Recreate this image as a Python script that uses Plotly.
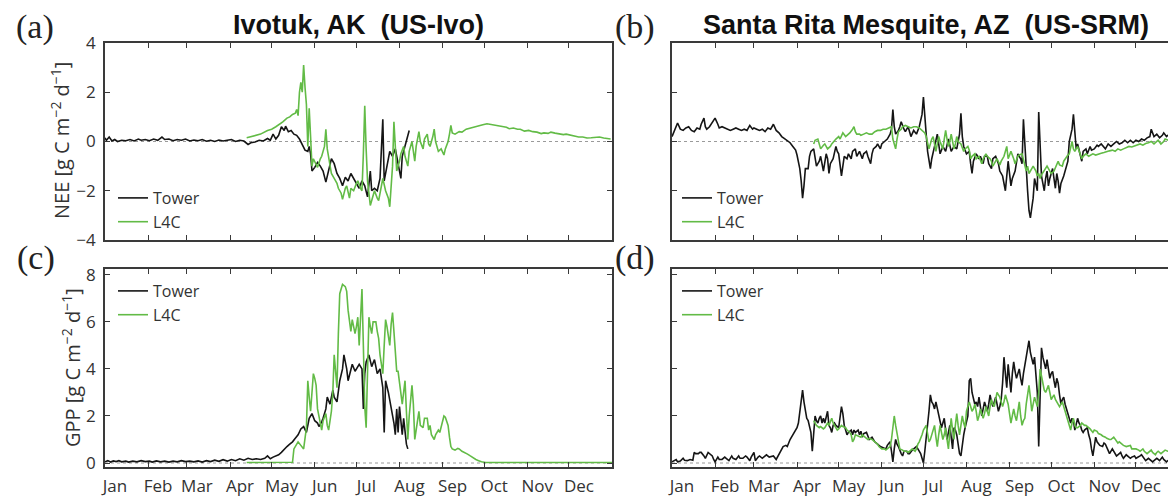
import plotly.graph_objects as go

W, H = 1168, 499
FONT = "Open Sans"

# ---------------- axis / tick definitions ----------------
month_labels = ["Jan", "Feb", "Mar", "Apr", "May", "Jun", "Jul", "Aug", "Sep", "Oct", "Nov", "Dec"]
month_start_doy = [1, 32, 60, 91, 121, 152, 182, 213, 244, 274, 305, 335]
nee_ticks = [-4, -2, 0, 2, 4]
gpp_ticks = [0, 2, 4, 6, 8]

# ---------------- data: (day of year, value) ----------------
ivo_nee_tower = [
    (1, 0.15), (2, 0.05), (4, 0.18), (6, 0.02), (8, 0.08), (10, 0.0), (13, 0.05), (16, 0.03), (19, 0.08),
    (22, 0.02), (25, 0.1), (27, 0.05), (30, 0.08), (33, 0.03), (36, 0.1), (39, 0.05), (42, 0.18), (44, 0.08),
    (47, 0.1), (50, 0.03), (53, 0.08), (56, 0.05), (59, 0.1), (62, 0.02), (65, 0.06), (68, 0.03), (71, 0.08),
    (74, 0.01), (77, 0.05), (80, 0.0), (83, 0.06), (86, 0.02), (89, 0.05), (92, 0.08), (95, 0.0), (98, 0.05),
    (101, 0.02), (104, -0.12), (106, -0.05), (109, -0.02), (112, 0.05), (115, 0.02), (118, 0.12), (120, 0.05),
    (122, 0.3), (124, 0.1), (126, 0.25), (128, 0.6), (130, 0.45), (131, 0.62), (133, 0.4), (135, 0.45),
    (137, 0.3), (139, 0.25), (141, 0.1), (143, -0.15), (145, -0.35), (147, -0.4), (148, -0.2), (149, -0.5),
    (150, -1.2), (152, -1.05), (154, -0.85), (156, -1.0), (158, -1.2), (160, -1.65), (162, -1.2), (164, -0.7),
    (166, -0.9), (168, -1.3), (170, -1.5), (172, -1.8), (174, -1.45), (176, -1.6), (178, -1.3), (180, -1.5),
    (182, -1.7), (184, -1.9), (186, -1.6), (188, -1.8), (190, -2.25), (192, -1.2), (193, -2.0), (195, -1.9),
    (197, -2.0), (199, -1.5), (200, -0.3), (201, 0.9), (202, -1.6), (204, -1.0), (206, -0.4), (208, -0.6),
    (210, -0.3), (212, -0.9), (213, -1.2), (214, -1.5), (215, -0.6), (217, -0.2), (219, 0.2), (220, 0.45),
]

ivo_nee_l4c = [
    (103, 0.15), (108, 0.22), (113, 0.3), (118, 0.45), (121, 0.5), (124, 0.6), (127, 0.7), (129, 0.8),
    (132, 0.95), (134, 1.0), (136, 1.1), (138, 1.15), (139, 1.3), (140, 1.05), (141, 2.0), (142, 2.4),
    (143, 2.0), (144, 3.1), (145, 2.2), (146, 1.5), (147, -0.2), (148, 1.35), (149, 0.2), (150, -1.0),
    (151, -0.7), (153, -0.9), (154, -1.05), (156, -0.7), (157, -0.6), (159, -0.2), (160, 0.5), (161, -0.3),
    (163, -1.0), (164, -1.3), (166, -1.5), (168, -1.7), (169, -1.9), (171, -2.1), (172, -2.35), (174, -1.9),
    (175, -1.8), (177, -2.3), (178, -1.9), (180, -2.0), (182, -1.7), (183, -1.6), (185, -1.9), (186, -2.0),
    (187, -0.5), (188, 1.45), (189, -0.3), (190, -1.6), (192, -2.6), (194, -2.2), (195, -2.0), (197, -2.3),
    (198, -2.4), (200, -1.8), (201, -1.5), (203, -2.0), (205, -2.3), (206, -2.65), (207, -1.6), (208, -1.0),
    (209, 0.8), (210, -0.5), (211, -1.2), (213, -0.8), (214, -0.5), (216, -0.2), (217, -0.6), (219, -1.0),
    (220, -0.4), (222, 0.0), (224, -0.8), (225, -0.2), (227, 0.4), (228, 0.0), (230, -0.3), (231, 0.1),
    (233, 0.3), (234, -0.1), (235, -0.2), (237, 0.2), (238, 0.5), (239, 0.0), (241, -0.4), (243, -0.3),
    (245, -0.55), (246, -0.3), (248, 0.0), (249, 0.3), (250, 0.65), (251, 0.35), (253, 0.3), (256, 0.4),
    (258, 0.38), (261, 0.5), (264, 0.55), (267, 0.6), (270, 0.66), (273, 0.68), (276, 0.72), (278, 0.7),
    (281, 0.66), (284, 0.62), (287, 0.6), (290, 0.58), (292, 0.52), (295, 0.55), (298, 0.5), (300, 0.5),
    (303, 0.42), (306, 0.45), (309, 0.4), (312, 0.38), (315, 0.32), (317, 0.35), (320, 0.33), (322, 0.38),
    (325, 0.34), (328, 0.3), (331, 0.28), (333, 0.3), (336, 0.25), (339, 0.2), (342, 0.18), (345, 0.18),
    (348, 0.14), (351, 0.15), (354, 0.17), (357, 0.18), (360, 0.14), (363, 0.12), (365, 0.1),
]

ivo_gpp_tower = [
    (1, 0.05), (3, 0.1), (5, 0.04), (7, 0.09), (9, 0.06), (11, 0.1), (13, 0.05), (16, 0.08), (18, 0.04),
    (21, 0.08), (24, 0.05), (27, 0.1), (30, 0.06), (33, 0.08), (35, 0.04), (38, 0.09), (41, 0.05), (44, 0.08),
    (47, 0.04), (50, 0.08), (53, 0.05), (56, 0.1), (59, 0.06), (62, 0.08), (65, 0.05), (68, 0.09), (71, 0.04),
    (74, 0.1), (77, 0.06), (80, 0.12), (83, 0.07), (86, 0.14), (89, 0.08), (92, 0.15), (95, 0.1), (98, 0.18),
    (101, 0.12), (104, 0.2), (107, 0.15), (110, 0.18), (113, 0.15), (116, 0.2), (118, 0.3), (120, 0.18),
    (122, 0.25), (124, 0.3), (126, 0.35), (128, 0.45), (130, 0.6), (132, 0.7), (134, 0.8), (136, 0.9),
    (138, 1.05), (140, 1.2), (142, 1.45), (144, 1.55), (146, 1.3), (148, 1.9), (150, 2.1), (152, 1.8),
    (154, 1.7), (155, 1.55), (157, 1.75), (158, 1.9), (160, 2.3), (161, 2.8), (163, 2.5), (165, 3.1),
    (166, 2.8), (168, 2.6), (170, 3.5), (172, 4.0), (173, 4.6), (175, 4.0), (176, 3.5), (178, 3.9),
    (179, 4.2), (181, 3.9), (183, 4.1), (184, 4.2), (186, 4.0), (187, 2.3), (188, 3.8), (189, 4.3),
    (191, 4.6), (193, 4.1), (195, 4.4), (197, 3.8), (199, 4.0), (200, 3.6), (201, 3.2), (202, 1.3),
    (203, 3.5), (205, 3.0), (207, 2.4), (209, 1.7), (210, 1.2), (211, 2.3), (212, 1.3), (213, 2.4),
    (215, 1.2), (216, 1.9), (218, 0.8), (219, 0.6),
]

ivo_gpp_l4c = [
    (103, 0.02), (110, 0.02), (118, 0.02), (125, 0.02), (131, 0.02), (136, 0.03), (137, 0.6), (139, 0.8),
    (140, 0.9), (142, 0.75), (144, 0.6), (146, 1.5), (147, 3.5), (148, 2.8), (149, 2.2), (150, 3.0),
    (151, 3.8), (152, 3.6), (153, 3.3), (154, 2.3), (155, 2.0), (157, 1.4), (158, 1.8), (160, 2.1),
    (161, 1.6), (162, 1.4), (164, 2.2), (165, 3.0), (166, 4.6), (167, 3.8), (168, 3.2), (169, 5.5),
    (170, 7.2), (171, 7.4), (172, 7.6), (174, 7.5), (175, 7.3), (176, 6.5), (177, 5.9), (178, 5.6),
    (179, 6.1), (180, 5.7), (181, 5.5), (182, 5.8), (183, 6.2), (184, 5.0), (185, 6.5), (186, 7.4),
    (187, 5.0), (188, 2.4), (189, 1.5), (190, 3.5), (191, 6.2), (192, 5.8), (193, 5.5), (194, 6.0),
    (196, 6.0), (197, 5.6), (198, 5.3), (199, 4.6), (200, 4.2), (201, 3.8), (202, 5.0), (203, 6.1),
    (204, 5.8), (205, 5.4), (206, 5.0), (207, 5.9), (208, 6.4), (209, 5.6), (210, 4.5), (211, 3.9),
    (212, 3.9), (213, 3.4), (214, 3.0), (215, 2.5), (216, 3.0), (217, 3.5), (218, 2.2), (219, 1.0),
    (220, 2.0), (222, 3.3), (223, 2.5), (224, 1.0), (225, 1.4), (227, 2.2), (228, 1.6), (230, 1.5),
    (231, 1.9), (233, 1.9), (234, 1.4), (235, 1.6), (236, 1.2), (238, 1.0), (239, 1.2), (241, 1.4),
    (242, 1.3), (244, 1.8), (245, 2.0), (246, 1.95), (247, 1.8), (248, 1.6), (249, 1.1), (250, 0.7),
    (251, 0.6), (253, 0.55), (255, 0.62), (256, 0.6), (258, 0.5), (260, 0.45), (262, 0.38), (264, 0.3),
    (266, 0.22), (268, 0.15), (270, 0.1), (272, 0.05), (275, 0.02), (280, 0.02), (290, 0.02), (300, 0.02),
    (310, 0.02), (320, 0.02), (330, 0.02), (340, 0.02), (350, 0.02), (360, 0.02), (366, 0.02),
]

srm_nee_tower = [
    (1, 0.2), (3, 0.45), (5, 0.75), (7, 0.5), (9, 0.45), (11, 0.55), (13, 0.6), (15, 0.45), (17, 0.4),
    (19, 0.55), (21, 0.5), (22, 0.7), (24, 0.95), (25, 0.6), (26, 0.5), (28, 0.6), (30, 0.75), (32, 0.95),
    (34, 0.7), (35, 0.55), (37, 0.6), (39, 0.55), (41, 0.5), (43, 0.45), (45, 0.5), (47, 0.55), (49, 0.5),
    (51, 0.45), (53, 0.5), (55, 0.45), (56, 0.55), (57, 0.65), (59, 0.5), (60, 0.55), (62, 0.5), (64, 0.45),
    (66, 0.5), (68, 0.4), (70, 0.55), (72, 0.5), (74, 0.7), (76, 0.45), (78, 0.35), (80, 0.2), (82, 0.12),
    (84, 0.05), (86, -0.05), (88, -0.2), (90, -0.35), (91, -0.55), (93, -1.1), (94, -1.6), (95, -2.3),
    (96, -1.8), (97, -1.1), (99, -1.1), (100, -0.6), (101, -0.4), (103, -0.3), (105, -1.0), (107, -0.8),
    (108, -0.6), (110, -1.2), (112, -0.5), (113, -0.7), (114, -1.3), (115, -0.9), (117, -0.7), (119, -0.2),
    (120, -0.4), (121, -0.5), (123, -1.4), (124, -0.9), (125, -0.6), (127, -0.7), (128, -0.5), (130, -0.7),
    (131, -0.4), (133, -0.3), (134, -0.6), (136, -0.4), (138, -0.7), (139, -0.5), (141, -0.4), (142, -0.6),
    (144, -0.9), (145, -0.5), (146, -0.3), (148, -0.2), (149, -0.1), (151, -0.3), (152, -0.1), (154, 0.0),
    (156, 0.1), (158, 0.3), (159, 0.5), (160, 1.3), (161, 0.6), (162, 0.3), (164, 0.45), (165, 0.6),
    (166, 0.8), (168, 0.5), (169, 0.4), (171, 0.6), (173, 0.2), (175, 0.45), (177, 0.3), (179, 0.6),
    (181, 1.1), (182, 1.8), (183, 1.2), (184, 0.3), (185, -0.4), (187, -1.1), (188, -0.7), (189, -0.5),
    (190, -0.2), (192, 0.3), (193, -0.1), (194, -0.5), (196, -0.2), (198, -0.4), (200, 0.1), (202, -0.4),
    (204, -0.2), (206, -0.3), (208, 0.3), (209, 1.15), (210, 0.2), (211, -0.2), (213, -0.5), (215, -0.4),
    (216, -0.9), (217, -1.3), (218, -0.8), (220, -0.5), (222, -0.7), (223, -0.6), (225, -0.9), (226, -0.6),
    (228, -0.6), (229, -0.9), (231, -1.1), (232, -0.7), (234, -0.6), (236, -0.9), (237, -1.2), (239, -1.4),
    (241, -2.0), (242, -1.4), (243, -0.8), (245, -1.8), (246, -1.5), (248, -1.2), (249, -0.8), (250, -0.5),
    (252, -0.7), (253, -0.9), (254, 0.9), (255, -0.2), (256, -1.0), (257, -2.0), (258, -2.8), (259, -3.1),
    (260, -2.7), (261, -2.3), (262, -1.5), (263, -1.8), (264, -2.0), (265, 1.2), (266, -0.2), (267, -1.4),
    (268, -1.7), (269, -2.0), (270, -1.5), (271, -1.2), (272, -1.8), (273, -1.5), (275, -1.1), (276, -1.6),
    (277, -1.9), (278, -1.3), (279, -1.6), (280, -2.1), (281, -1.7), (283, -1.4), (284, -1.2), (286, -0.8),
    (287, 0.0), (288, 0.3), (289, 0.5), (290, 1.1), (291, 0.4), (292, -0.3), (293, -0.1), (295, -0.5),
    (296, -0.8), (297, -0.4), (299, -0.3), (300, -0.5), (302, -0.2), (303, -0.35), (305, -0.3), (307, -0.15),
    (308, -0.2), (310, -0.1), (312, -0.25), (313, -0.3), (315, -0.1), (317, -0.2), (319, -0.1), (321, 0.0),
    (323, -0.1), (325, -0.05), (327, 0.05), (329, -0.05), (331, 0.05), (333, -0.05), (335, 0.05), (337, 0.0),
    (339, 0.1), (341, 0.05), (343, 0.15), (345, 0.2), (346, 0.5), (347, 0.3), (348, 0.2), (350, 0.3),
    (352, 0.15), (354, 0.25), (355, 0.35), (357, 0.2), (359, 0.3), (361, 0.45), (363, 0.3), (365, 0.25),
]

srm_nee_l4c = [
    (103, -0.1), (104, 0.05), (106, 0.1), (108, -0.3), (110, -0.15), (111, -0.1), (113, -0.3), (115, -0.2),
    (116, -0.1), (118, 0.05), (119, 0.1), (121, 0.2), (122, 0.1), (124, 0.35), (126, 0.2), (127, 0.25),
    (129, 0.35), (131, 0.5), (132, 0.6), (133, 0.4), (134, 0.3), (136, 0.3), (137, 0.25), (139, 0.3),
    (141, 0.35), (143, 0.3), (145, 0.3), (147, 0.4), (149, 0.45), (151, 0.45), (153, 0.5), (155, 0.5),
    (157, 0.55), (159, 0.6), (160, 0.1), (161, -0.15), (162, -0.3), (163, 0.1), (164, 0.4), (166, 0.5),
    (167, 0.6), (169, 0.65), (171, 0.6), (173, 0.55), (175, 0.6), (177, 0.6), (179, 0.55), (181, 0.45),
    (183, 0.35), (184, 0.2), (185, 0.0), (186, -0.3), (188, 0.1), (189, 0.2), (190, -0.1), (191, -0.4),
    (192, -0.1), (193, 0.2), (194, 0.0), (196, -0.3), (197, 0.1), (198, 0.45), (199, 0.1), (200, -0.2),
    (201, 0.0), (202, 0.3), (203, 0.0), (204, -0.3), (205, -0.1), (206, 0.2), (207, 0.0), (209, -0.1),
    (210, -0.25), (211, -0.4), (212, -0.3), (214, -0.2), (215, -0.35), (216, -0.7), (217, -0.6), (219, -0.5),
    (220, -0.7), (222, -0.6), (223, -0.75), (224, -0.9), (225, -0.7), (227, -0.5), (228, -0.6), (230, -0.7),
    (231, -0.8), (232, -1.0), (234, -0.8), (235, -0.7), (237, -0.95), (238, -0.8), (240, -0.6), (241, -0.4),
    (242, -0.2), (243, -0.7), (244, -0.5), (245, -0.4), (247, -0.7), (248, -0.9), (250, -0.6), (251, -0.55),
    (253, -0.5), (254, -0.7), (256, -1.2), (257, -1.0), (258, -1.3), (260, -1.1), (261, -1.0), (263, -1.2),
    (264, -1.4), (265, -1.3), (266, -1.5), (267, -1.35), (269, -1.2), (270, -1.1), (271, -1.0), (273, -1.2),
    (274, -1.3), (276, -1.2), (277, -1.05), (279, -0.8), (280, -0.95), (282, -1.0), (283, -0.8), (285, -0.6),
    (286, -0.55), (287, -0.5), (288, -0.2), (289, 0.0), (290, -0.3), (291, -0.4), (293, -0.2), (294, -0.4),
    (296, -0.7), (297, -0.6), (299, -0.5), (301, -0.6), (303, -0.55), (304, -0.5), (306, -0.55), (308, -0.5),
    (310, -0.48), (312, -0.45), (314, -0.4), (316, -0.38), (318, -0.35), (320, -0.4), (322, -0.3),
    (324, -0.35), (326, -0.3), (328, -0.25), (330, -0.2), (332, -0.22), (334, -0.18), (336, -0.15),
    (338, -0.1), (340, -0.15), (342, -0.08), (344, -0.05), (346, 0.0), (348, -0.1), (350, 0.0), (351, 0.05),
    (353, -0.1), (355, 0.0), (356, 0.1), (358, 0.05), (361, 0.0), (365, 0.0),
]

srm_gpp_tower = [
    (1, 0.05), (3, 0.12), (4, 0.15), (5, 0.05), (7, 0.08), (9, 0.2), (10, 0.12), (12, 0.1), (14, 0.15),
    (16, 0.12), (17, 0.45), (18, 0.4), (20, 0.4), (21, 0.45), (22, 0.45), (24, 0.3), (25, 0.2), (27, 0.45),
    (28, 0.4), (30, 0.3), (31, 0.15), (32, 0.05), (34, 0.25), (35, 0.15), (37, 0.15), (39, 0.25), (40, 0.2),
    (42, 0.1), (44, 0.3), (45, 0.2), (47, 0.15), (49, 0.3), (50, 0.2), (52, 0.2), (54, 0.3), (55, 0.25),
    (57, 0.1), (58, 0.25), (60, 0.45), (61, 0.1), (63, 0.25), (64, 0.3), (66, 0.2), (68, 0.3), (69, 0.35),
    (71, 0.25), (73, 0.3), (74, 0.3), (76, 0.15), (77, 0.25), (78, 0.4), (80, 0.6), (81, 0.7), (83, 0.75),
    (84, 0.7), (86, 1.0), (87, 1.1), (89, 1.3), (90, 1.4), (91, 1.5), (92, 1.7), (93, 2.2), (94, 2.6),
    (95, 3.1), (96, 2.6), (97, 2.2), (98, 1.9), (99, 1.8), (100, 1.6), (101, 1.3), (102, 0.5), (103, 1.5),
    (104, 2.0), (105, 1.8), (106, 1.7), (107, 1.9), (108, 2.0), (109, 1.7), (110, 1.9), (111, 1.7),
    (112, 2.0), (113, 2.2), (114, 1.6), (115, 1.5), (116, 1.3), (117, 1.6), (118, 1.7), (119, 1.6),
    (121, 1.5), (122, 2.0), (123, 2.4), (124, 2.1), (125, 1.6), (126, 1.4), (127, 1.2), (128, 1.3),
    (130, 1.4), (131, 1.2), (132, 1.4), (133, 1.3), (135, 1.4), (136, 1.2), (137, 1.35), (138, 1.1),
    (139, 1.25), (141, 1.3), (142, 1.1), (143, 1.0), (145, 1.1), (147, 0.9), (149, 0.8), (151, 0.7),
    (153, 0.65), (155, 0.6), (156, 0.75), (158, 0.9), (159, 0.5), (160, 0.05), (161, 0.6), (162, 1.0),
    (163, 0.8), (164, 0.7), (166, 0.4), (167, 0.3), (168, 0.5), (170, 0.5), (171, 0.4), (172, 0.4),
    (174, 0.55), (175, 0.6), (177, 0.7), (178, 0.6), (180, 0.4), (181, 0.2), (182, 0.0), (183, 0.5),
    (184, 1.0), (185, 1.6), (186, 2.2), (187, 2.9), (188, 2.6), (189, 2.5), (190, 2.3), (191, 2.6),
    (192, 2.3), (193, 2.0), (194, 1.7), (195, 1.5), (196, 1.7), (197, 1.9), (198, 1.4), (199, 1.0),
    (200, 1.3), (201, 1.6), (202, 1.1), (203, 0.6), (204, 1.5), (205, 1.4), (206, 1.2), (207, 0.8),
    (208, 0.4), (209, 0.3), (210, 0.8), (211, 1.2), (212, 1.5), (213, 1.7), (214, 2.0), (215, 3.5),
    (216, 3.6), (217, 3.0), (218, 2.7), (219, 2.5), (220, 2.6), (221, 2.4), (222, 2.8), (223, 2.4),
    (224, 2.0), (225, 2.3), (226, 2.6), (227, 2.4), (228, 2.2), (229, 2.5), (230, 2.9), (231, 2.6),
    (232, 2.4), (233, 2.6), (234, 2.8), (235, 2.5), (236, 2.2), (237, 2.4), (238, 2.7), (239, 3.4),
    (240, 4.5), (241, 3.8), (242, 3.2), (243, 4.2), (244, 3.5), (245, 3.0), (246, 3.8), (247, 4.3),
    (248, 3.9), (249, 3.6), (250, 3.8), (251, 4.0), (252, 3.6), (253, 3.3), (254, 3.8), (255, 4.2),
    (256, 4.5), (257, 4.8), (258, 5.2), (259, 4.7), (260, 4.4), (261, 4.2), (262, 4.5), (263, 3.8),
    (264, 3.0), (265, 0.7), (266, 3.5), (267, 4.9), (268, 4.5), (269, 4.2), (270, 4.0), (271, 4.4),
    (272, 4.0), (273, 3.6), (274, 3.8), (275, 3.9), (276, 3.5), (277, 3.2), (278, 3.6), (279, 3.4),
    (280, 2.9), (281, 2.5), (282, 2.7), (283, 2.8), (284, 2.5), (285, 2.3), (286, 2.1), (287, 2.0),
    (288, 1.7), (289, 1.9), (290, 1.8), (291, 1.4), (292, 1.6), (293, 1.9), (294, 1.7), (295, 1.6),
    (296, 1.4), (297, 1.3), (298, 1.4), (300, 1.5), (301, 1.2), (302, 1.0), (303, 0.6), (304, 0.3),
    (305, 0.7), (306, 1.1), (307, 0.9), (308, 0.8), (309, 0.75), (311, 0.7), (312, 0.85), (313, 0.8),
    (315, 0.5), (316, 0.4), (318, 0.6), (319, 0.5), (321, 0.3), (322, 0.35), (324, 0.45), (325, 0.3),
    (326, 0.2), (328, 0.35), (329, 0.3), (331, 0.2), (332, 0.25), (334, 0.3), (335, 0.2), (337, 0.25),
    (338, 0.3), (339, 0.35), (341, 0.2), (342, 0.1), (344, 0.2), (345, 0.15), (347, 0.05), (348, 0.1),
    (350, 0.2), (351, 0.15), (352, 0.1), (354, 0.25), (355, 0.15), (357, 0.05), (358, 0.1), (360, 0.15),
    (362, 0.1), (364, 0.15), (365, 0.1),
]

srm_gpp_l4c = [
    (103, 1.8), (104, 1.7), (105, 1.6), (107, 1.5), (108, 1.55), (110, 1.45), (111, 1.5), (113, 1.7),
    (114, 1.6), (116, 1.9), (117, 1.7), (119, 1.5), (120, 1.4), (121, 1.45), (123, 1.6), (124, 1.55),
    (126, 1.5), (127, 1.4), (129, 1.3), (130, 1.2), (131, 0.9), (132, 1.0), (133, 1.2), (135, 1.15),
    (137, 1.1), (138, 1.2), (140, 1.1), (142, 1.0), (143, 1.05), (145, 1.0), (147, 0.9), (149, 0.8),
    (150, 0.7), (152, 0.6), (154, 0.6), (155, 0.55), (157, 0.65), (158, 0.7), (159, 1.0), (160, 1.5),
    (161, 2.0), (162, 1.6), (163, 1.2), (164, 0.9), (165, 0.6), (167, 0.55), (168, 0.5), (170, 0.5),
    (171, 0.45), (173, 0.55), (174, 0.6), (176, 0.5), (177, 0.6), (178, 0.8), (179, 0.9), (181, 1.2),
    (182, 1.4), (184, 1.6), (185, 1.2), (186, 0.9), (187, 1.0), (188, 1.2), (189, 1.5), (190, 1.6),
    (191, 1.1), (192, 0.7), (193, 1.2), (194, 1.6), (195, 1.3), (196, 1.0), (197, 1.2), (198, 1.5),
    (199, 1.0), (200, 0.6), (201, 1.3), (202, 1.9), (203, 1.4), (204, 1.0), (205, 1.6), (206, 2.1),
    (207, 1.6), (208, 1.2), (209, 1.6), (210, 2.0), (211, 1.7), (212, 1.5), (213, 2.2), (214, 2.4),
    (215, 2.6), (216, 2.4), (217, 2.2), (218, 2.3), (219, 2.5), (220, 2.2), (221, 1.8), (222, 2.0),
    (223, 2.3), (224, 2.1), (225, 1.9), (226, 2.1), (227, 2.4), (228, 2.2), (229, 2.0), (230, 2.4),
    (231, 2.7), (232, 2.5), (233, 2.4), (234, 2.7), (235, 3.0), (236, 2.9), (237, 2.8), (238, 2.6),
    (239, 2.4), (240, 2.6), (241, 2.9), (242, 2.7), (243, 2.5), (244, 2.1), (245, 1.7), (246, 2.0),
    (247, 2.3), (248, 2.0), (249, 1.8), (250, 2.2), (251, 2.6), (252, 2.0), (253, 1.6), (254, 1.8),
    (255, 1.9), (256, 2.5), (257, 2.9), (258, 3.3), (259, 2.8), (260, 2.2), (261, 2.5), (262, 2.8),
    (263, 2.6), (264, 2.4), (265, 3.0), (266, 4.0), (267, 3.7), (268, 3.3), (269, 3.1), (270, 3.0),
    (271, 3.2), (272, 3.3), (273, 3.0), (274, 2.7), (275, 2.8), (276, 2.9), (277, 2.7), (278, 2.6),
    (279, 2.5), (280, 2.4), (281, 2.5), (282, 2.6), (283, 2.4), (284, 2.2), (285, 2.0), (286, 1.9),
    (287, 1.6), (288, 1.4), (289, 1.7), (290, 1.9), (291, 1.6), (292, 1.5), (293, 1.5), (295, 1.6),
    (296, 1.7), (298, 1.6), (299, 1.6), (301, 1.5), (302, 1.45), (304, 1.3), (305, 1.4), (307, 1.35),
    (308, 1.25), (310, 1.2), (311, 1.15), (313, 1.1), (314, 1.05), (316, 1.0), (317, 1.0), (319, 1.1),
    (320, 1.0), (322, 0.85), (323, 0.9), (325, 0.8), (326, 0.75), (328, 0.7), (329, 0.72), (331, 0.75),
    (332, 0.6), (334, 0.62), (335, 0.6), (337, 0.55), (338, 0.5), (340, 0.6), (341, 0.5), (343, 0.4),
    (344, 0.45), (346, 0.55), (347, 0.45), (349, 0.35), (350, 0.45), (351, 0.5), (353, 0.4), (354, 0.45),
    (356, 0.55), (358, 0.5), (361, 0.5), (363, 0.45), (365, 0.45),
]

# ---------------- styling ----------------
TOWER_COLOR = "#151515"
L4C_COLOR = "#62bb46"
FRAME = "#3a3a3a"
TXT = "#333333"


def px(x):
    return x / W


def py(y):
    return 1 - y / H


def split(pairs):
    return [p[0] for p in pairs], [p[1] for p in pairs]


panels = [
    dict(xa="x", ya="y", leg="legend", tower=ivo_nee_tower, l4c=ivo_nee_l4c),
    dict(xa="x2", ya="y2", leg="legend2", tower=srm_nee_tower, l4c=srm_nee_l4c),
    dict(xa="x3", ya="y3", leg="legend3", tower=ivo_gpp_tower, l4c=ivo_gpp_l4c),
    dict(xa="x4", ya="y4", leg="legend4", tower=srm_gpp_tower, l4c=srm_gpp_l4c),
]

fig = go.Figure()
for p in panels:
    tx, ty = split(p["tower"])
    lx, ly = split(p["l4c"])
    fig.add_trace(go.Scatter(x=tx, y=ty, mode="lines", name="Tower",
                             line=dict(color=TOWER_COLOR, width=1.6),
                             xaxis=p["xa"], yaxis=p["ya"], legend=p["leg"]))
    fig.add_trace(go.Scatter(x=lx, y=ly, mode="lines", name="L4C",
                             line=dict(color=L4C_COLOR, width=1.6),
                             xaxis=p["xa"], yaxis=p["ya"], legend=p["leg"]))

LEFT_DOM = [px(105), px(612)]
RIGHT_DOM = [px(672), 1.0]
TOP_DOM = [py(240), py(43)]
BOT_DOM = [py(467), py(269)]
FULL_RANGE = [1, 366]
RIGHT_RANGE = [1, 1 + (W - 672) * 365 / 507]


def xax(domain, rng, anchor, labels):
    d = dict(domain=domain, range=rng, anchor=anchor, tickmode="array",
             tickvals=month_start_doy, ticktext=month_labels, showticklabels=labels,
             ticks="inside", ticklen=5, tickwidth=1.3, tickcolor=FRAME,
             showline=True, linewidth=1.8, linecolor=FRAME, mirror="ticks",
             showgrid=False, zeroline=False, automargin=False,
             tickfont=dict(family=FONT, size=17, color=TXT))
    if labels:
        d.update(ticklabelshift=10, ticklabelstandoff=3)
    return d


def yax(domain, rng, anchor, tickvals, labels, mirror):
    return dict(domain=domain, range=rng, anchor=anchor, tickmode="array", tickvals=tickvals,
                showticklabels=labels, ticks="inside", ticklen=5, tickwidth=1.3, tickcolor=FRAME,
                showline=True, linewidth=1.8, linecolor=FRAME, mirror=mirror,
                showgrid=False, zeroline=False, automargin=False, ticklabelstandoff=4,
                tickfont=dict(family=FONT, size=17, color=TXT))


def leg(x, y):
    return dict(x=px(x), y=py(y), xanchor="left", yanchor="top", bgcolor="rgba(0,0,0,0)",
                borderwidth=0, font=dict(family=FONT, size=16, color=TXT), itemwidth=30,
                tracegroupgap=0, traceorder="normal")


shapes = []
for xa, ya in [("x", "y"), ("x2", "y2"), ("x3", "y3"), ("x4", "y4")]:
    shapes.append(dict(type="line", xref=f"{xa} domain", x0=0, x1=1, yref=ya, y0=0, y1=0,
                       line=dict(color="#9a9a9a", width=1, dash="dot"), layer="below"))

annotations = [
    dict(text="<b>Ivotuk, AK\u00a0 (US-Ivo)</b>", x=px(358.5), y=py(25), xref="paper", yref="paper",
         xanchor="center", yanchor="middle", showarrow=False,
         font=dict(family="Liberation Sans", size=27, color="#111")),
    dict(text="<b>Santa Rita Mesquite, AZ\u00a0 (US-SRM)</b>", x=px(925.5), y=py(25), xref="paper",
         yref="paper", xanchor="center", yanchor="middle", showarrow=False,
         font=dict(family="Liberation Sans", size=27, color="#111")),
    dict(text="NEE [g C m<sup>\u22122</sup> d<sup>\u22121</sup>]", x=px(61), y=py(141), xref="paper",
         yref="paper", xanchor="center", yanchor="middle", textangle=-90, showarrow=False,
         font=dict(family=FONT, size=20, color=TXT)),
    dict(text="GPP [g C m<sup>\u22122</sup> d<sup>\u22121</sup>]", x=px(71), y=py(368), xref="paper",
         yref="paper", xanchor="center", yanchor="middle", textangle=-90, showarrow=False,
         font=dict(family=FONT, size=20, color=TXT)),
]
for lab, (cx, cy) in zip(["(a)", "(b)", "(c)", "(d)"], [(35, 27), (635, 27), (36, 258), (635, 258)]):
    annotations.append(dict(text=lab, x=px(cx), y=py(cy), xref="paper", yref="paper",
                            xanchor="center", yanchor="middle", showarrow=False,
                            font=dict(family="Liberation Serif", size=34, color="#222")))

fig.update_layout(
    width=W, height=H, margin=dict(l=0, r=0, t=0, b=0, pad=0, autoexpand=False),
    paper_bgcolor="white", plot_bgcolor="white",
    font=dict(family=FONT, color=TXT),
    showlegend=True,
    xaxis=xax(LEFT_DOM, FULL_RANGE, "y", False),
    xaxis2=xax(RIGHT_DOM, RIGHT_RANGE, "y2", False),
    xaxis3=xax(LEFT_DOM, FULL_RANGE, "y3", True),
    xaxis4=xax(RIGHT_DOM, RIGHT_RANGE, "y4", True),
    yaxis=yax(TOP_DOM, [-4, 4], "x", nee_ticks, True, "ticks"),
    yaxis2=yax(TOP_DOM, [-4, 4], "x2", nee_ticks, False, False),
    yaxis3=yax(BOT_DOM, [-0.17, 8.25], "x3", gpp_ticks, True, "ticks"),
    yaxis4=yax(BOT_DOM, [-0.17, 8.25], "x4", gpp_ticks, False, False),
    legend=leg(113, 181),
    legend2=leg(677, 181),
    legend3=leg(113, 274),
    legend4=leg(677, 274),
    shapes=shapes,
    annotations=annotations,
)

# remove the default 8px page margin so the 1168x499 figure fills the window exactly
fig.write_html("out.html", config={"displayModeBar": False},
               post_script="document.body.style.margin='0px';")
